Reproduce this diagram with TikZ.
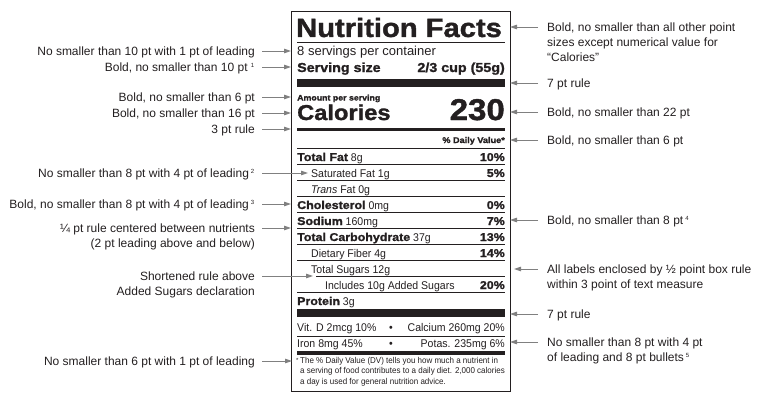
\documentclass[tikz,border=0pt]{standalone}
\usepackage{fontspec}
\setmainfont{Liberation Sans}
\newfontfamily\blk[FakeStretch=1.1,FakeBold=1.4]{Liberation Sans Bold}
\newfontfamily\nar[FakeStretch=0.94]{Liberation Sans}
\usetikzlibrary{arrows.meta}
\definecolor{ink}{HTML}{231F20}
\definecolor{arrgray}{HTML}{808080}
\newcommand{\fsz}[1]{\fontsize{#1}{#1}\selectfont}
\begin{document}
\begin{tikzpicture}[x=1pt,y=-1pt,
  lbl/.style={font=\fontsize{12}{15}\selectfont, text=ink, inner sep=0pt},
  lblL/.style={lbl, anchor=base east},
  lblR/.style={lbl, anchor=base west},
  arr/.style={draw=arrgray, line width=0.9pt, -{Triangle[length=7pt,width=4.5pt]}},
  pl/.style={inner sep=0pt, text=ink, anchor=base west},
  pr/.style={inner sep=0pt, text=ink, anchor=base east},
  reg/.style={font=\nar\fsz{11.2}},
  hvy/.style={font=\blk\fsz{11.3}},
  rule/.style={draw=ink, line width=0.8pt},
  bar/.style={fill=ink},
]
\useasboundingbox (0,0) rectangle (784,396);

% ---------- panel ----------
\draw[draw=ink, line width=1pt] (291,12) rectangle (510,391);
\node[pl, font=\blk\fsz{26.5}] (title) at (296,37) {Nutrition Facts};
\draw[rule, line width=1pt] (297,43) -- (505,43);
\node[pl, font=\fsz{13}] (serv) at (297,55.5) {8 servings per container};
\node[pl, font=\blk\fsz{13}] (ssize) at (297,72) {Serving size};
\node[pr, font=\blk\fsz{13}] (ssval) at (505,72) {2/3 cup (55g)};
\fill[bar] (297,78.5) rectangle (505,87);
\node[pl, font=\blk\fsz{8}] (amt) at (297,100.5) {Amount per serving};
\node[pl, font=\blk\fsz{21.5}] (cal) at (297,120) {Calories};
\node[pr, font=\blk\fsz{30}] (calv) at (505,120) {230};
\fill[bar] (297,127.5) rectangle (505,131);
\node[pr, font=\blk\fsz{8.3}] (dv) at (505,143) {\% Daily Value*};
\draw[rule] (297,148) -- (505,148);

% nutrient rows
\node[pl, reg] (r0) at (297,161) {{\blk\fsz{11.3}Total Fat} 8g};
\node[pr, hvy] (p0) at (505,161) {10\%};
\draw[rule] (297,164.5) -- (505,164.5);
\node[pl, reg] (r1) at (311,177) {Saturated Fat 1g};
\node[pr, hvy] (p1) at (505,177) {5\%};
\draw[rule] (297,180.5) -- (505,180.5);
\node[pl, reg] (r2) at (311,193) {\textit{Trans} Fat 0g};
\draw[rule] (297,196.5) -- (505,196.5);
\node[pl, reg] (r3) at (297,209) {{\blk\fsz{11.3}Cholesterol} 0mg};
\node[pr, hvy] (p3) at (505,209) {0\%};
\draw[rule] (297,212.5) -- (505,212.5);
\node[pl, reg] (r4) at (297,225) {{\blk\fsz{11.3}Sodium} 160mg};
\node[pr, hvy] (p4) at (505,225) {7\%};
\draw[rule] (297,228.5) -- (505,228.5);
\node[pl, reg] (r5) at (297,241) {{\blk\fsz{11.3}Total Carbohydrate} 37g};
\node[pr, hvy] (p5) at (505,241) {13\%};
\draw[rule] (297,244.5) -- (505,244.5);
\node[pl, reg] (r6) at (311,257) {Dietary Fiber 4g};
\node[pr, hvy] (p6) at (505,257) {14\%};
\draw[rule] (297,260.5) -- (505,260.5);
\node[pl, reg] (r7) at (311,273) {Total Sugars 12g};
\draw[rule] (316,276.5) -- (505,276.5);
\node[pl, reg] (r8) at (325,289) {Includes 10g Added Sugars};
\node[pr, hvy] (p8) at (505,289) {20\%};
\draw[rule] (297,292.5) -- (505,292.5);
\node[pl, reg] (r9) at (297,305) {{\blk\fsz{11.3}Protein} 3g};
\fill[bar] (297,308.5) rectangle (505,316.5);

\node[pl, reg] (vd) at (297,331) {Vit. D 2mcg 10\%};
\node[inner sep=0pt, text=ink, anchor=base, reg] (b1) at (391,331) {•};
\node[pr, reg] (ca) at (505,331) {Calcium 260mg 20\%};
\draw[rule] (297,336.5) -- (505,336.5);
\node[pl, reg] (fe) at (297,347) {Iron 8mg 45\%};
\node[inner sep=0pt, text=ink, anchor=base, reg] (b2) at (391,347) {•};
\node[pr, reg] (k) at (505,347) {Potas. 235mg 6\%};
\fill[bar] (297,350.5) rectangle (505,354.5);

\node[pl, font=\fsz{6}] (ast) at (296,362) {*};
\node[pl, font=\nar\fsz{8.5}] (fn1) at (300,363) {The \% Daily Value (DV) tells you how much a nutrient in};
\node[pl, font=\nar\fsz{8.5}] (fn2) at (300,373.5) {a serving of food contributes to a daily diet. 2,000 calories};
\node[pl, font=\nar\fsz{8.5}] (fn3) at (300,384) {a day is used for general nutrition advice.};

% ---------- left labels ----------
\node[lblL] (l1) at (255,55.5) {No smaller than 10 pt with 1 pt of leading};
\node[lblL] (l2) at (255,71.5) {Bold, no smaller than 10 pt \textsuperscript{\fsz{6}1}};
\node[lblL] (l3) at (255,101.5) {Bold, no smaller than 6 pt};
\node[lblL] (l4) at (255,117.5) {Bold, no smaller than 16 pt};
\node[lblL] (l5) at (255,133.5) {3 pt rule};
\node[lblL] (l6) at (255,177.5) {No smaller than 8 pt with 4 pt of leading\,\textsuperscript{\fsz{6}2}};
\node[lblL] (l7) at (255,208.5) {Bold, no smaller than 8 pt with 4 pt of leading\,\textsuperscript{\fsz{6}3}};
\node[lblL] (l8a) at (255,232.5) {¼ pt rule centered between nutrients};
\node[lblL] (l8b) at (255,247.5) {(2 pt leading above and below)};
\node[lblL] (l9a) at (255,280.5) {Shortened rule above};
\node[lblL] (l9b) at (255,295.5) {Added Sugars declaration};
\node[lblL] (l10) at (255,365.5) {No smaller than 6 pt with 1 pt of leading};

\foreach \n/\y/\tx in {1/51/291, 2/67/291, 3/97/291, 4/113/291, 5/129/291, 6/173/308, 7/204/291, 8/228/291, 9/276/313, 10/361/292}{
  \coordinate (ls\n) at (262,\y);
  \coordinate (lt\n) at (\tx,\y);
  \draw[arr] (ls\n) -- (lt\n);
}

% ---------- right labels ----------
\node[lblR] (q1a) at (547,31.5) {Bold, no smaller than all other point};
\node[lblR] (q1b) at (547,46.5) {sizes except numerical value for};
\node[lblR] (q1c) at (547,61.5) {“Calories”};
\node[lblR] (q2) at (547,87.5) {7 pt rule};
\node[lblR] (q3) at (547,116.5) {Bold, no smaller than 22 pt};
\node[lblR] (q4) at (547,144.5) {Bold, no smaller than 6 pt};
\node[lblR] (q5) at (547,224.5) {Bold, no smaller than 8 pt\,\textsuperscript{\fsz{6}4}};
\node[lblR] (q6a) at (547,273.5) {All labels enclosed by ½ point box rule};
\node[lblR] (q6b) at (547,288.5) {within 3 point of text measure};
\node[lblR] (q7) at (547,318.5) {7 pt rule};
\node[lblR] (q8a) at (547,346.5) {No smaller than 8 pt with 4 pt};
\node[lblR] (q8b) at (547,361.5) {of leading and 8 pt bullets\,\textsuperscript{\fsz{6}5}};

\foreach \n/\y/\tx in {1/27/510, 2/83/510, 3/112/510, 4/140/510, 5/220/510, 6/269/514, 7/314/510, 8/342/510}{
  \coordinate (rs\n) at (538,\y);
  \coordinate (rt\n) at (\tx,\y);
  \draw[arr] (rs\n) -- (rt\n);
}
\end{tikzpicture}
\end{document}
